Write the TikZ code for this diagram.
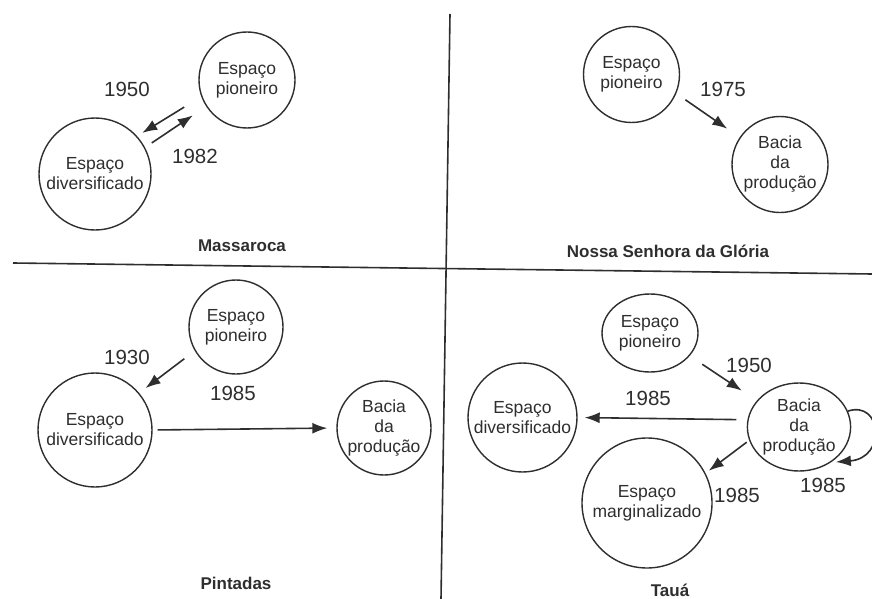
\documentclass[tikz,border=0pt]{standalone}
\usepackage{fontspec}
\setmainfont{Liberation Sans}
\usetikzlibrary{arrows.meta,shapes.geometric}
\definecolor{ink}{HTML}{2E2E2E}
\tikzset{
  x=1pt,y=-1pt,
  place/.style={circle,draw=ink,line width=1.4pt,inner sep=0pt,align=center,text=ink,
    font=\fontsize{17.5}{20}\selectfont},
  oval/.style={place,ellipse},
  year/.style={text=ink,font=\fontsize{20.5}{22}\selectfont,inner sep=0pt},
  title/.style={text=ink,font=\bfseries\fontsize{17}{20}\selectfont,inner sep=0pt},
  arr/.style={draw=ink,line width=1.6pt,-{Latex[length=15pt,width=11pt]}},
  frame/.style={draw=ink,line width=1.6pt}
}
\begin{document}
\begin{tikzpicture}
\useasboundingbox (0,0) rectangle (872,599);
% frame lines
\coordinate (hl) at (13,263);
\coordinate (hr) at (872,274);
\coordinate (vt) at (450,14);
\coordinate (vb) at (441,599);
\draw[frame] (hl) -- (hr);
\draw[frame] (vt) -- (vb);

% Q1 Massaroca
\node[place,minimum size=96pt] (p1) at (247,80) {Espaço\\pioneiro};
\node[place,minimum size=112pt] (d1) at (95,174) {Espaço\\diversificado};
\draw[arr,shorten <=20pt,shorten >=6pt] (p1.200) -- (d1.42);
\draw[arr,shorten <=8pt,shorten >=16pt] (d1.28) -- (p1.213);
\node[year] (y1a) at (127,89) {1950};
\node[year] (y1b) at (195,156) {1982};
\node[title] (t1) at (242,246) {Massaroca};

% Q2 Nossa Senhora da Gloria
\node[place,minimum size=96pt] (p2) at (631.5,74.5) {Espaço\\pioneiro};
\node[place,minimum size=96pt] (b2) at (780,164.5) {Bacia\\da\\produção};
\draw[arr,shorten <=11pt,shorten >=15pt] (p2.-23) -- (b2.146);
\node[year] (y2) at (723,89) {1975};
\node[title] (t2) at (668,251) {Nossa Senhora da Glória};

% Q3 Pintadas
\node[place,minimum size=94pt] (p3) at (236,327) {Espaço\\pioneiro};
\node[place,minimum size=114pt] (d3) at (95,430) {Espaço\\diversificado};
\node[place,minimum size=94pt] (b3) at (384,428) {Bacia\\da\\produção};
\draw[arr,shorten <=13pt,shorten >=8pt] (p3.210) -- (d3.40);
\draw[arr,shorten <=5pt,shorten >=9pt] (d3.east) -- (b3.west);
\node[year] (y3a) at (127,357) {1930};
\node[year] (y3b) at (233,393) {1985};
\node[title] (t3) at (236,583) {Pintadas};

% Q4 Taua
\node[oval,minimum width=96pt,minimum height=78pt] (p4) at (650,333) {Espaço\\pioneiro};
\node[place,minimum size=109pt] (d4) at (522.5,417.5) {Espaço\\diversificado};
\node[oval,minimum width=94pt,minimum height=88pt] (b4) at (799,427) {Bacia\\da\\produção};
\node[place,minimum size=130pt] (m4) at (647,503) {Espaço\\marginalizado};
\draw[arr,shorten <=15pt,shorten >=18pt] (p4.-30) -- (b4.148);
\draw[arr,shorten <=11pt,shorten >=7pt] (b4.172) -- (d4.0);
\draw[arr,shorten <=3pt,shorten >=4pt] (b4.195) -- (m4.27);
\draw[arr,shorten >=5pt] (b4.18) .. controls (882,400) and (887,458) .. (b4.-48);
\node[year] (y4a) at (749,365) {1950};
\node[year] (y4b) at (648,398) {1985};
\node[year] (y4c) at (737,495) {1985};
\node[year] (y4d) at (823,485) {1985};
\node[title] (t4) at (670,590) {Tauá};
\end{tikzpicture}
\end{document}
